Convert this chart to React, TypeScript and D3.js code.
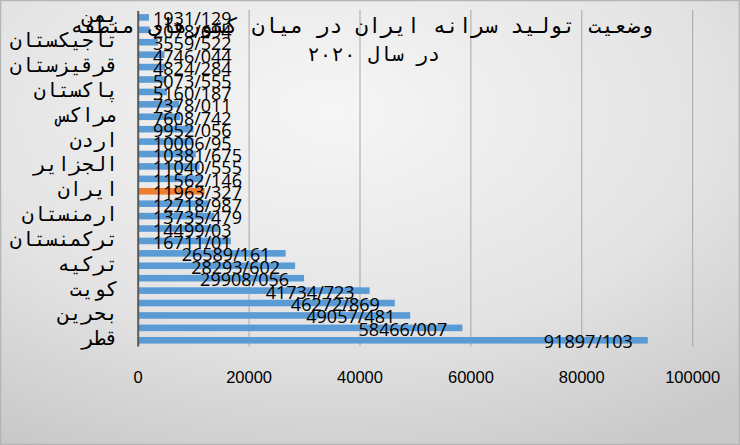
import React from "react";
import * as d3 from "d3";

const categories = [
  "قطر", "امارات", "بحرین", "عربستان", "کویت", "عمان", "ترکیه", "قزاقستان",
  "ترکمنستان", "عراق", "ارمنستان", "آذربایجان", "ایران", "گرجستان", "الجزایر",
  "مصر", "اردن", "لبنان", "مراکس", "ازبکستان", "پاکستان", "فلسطین", "قرقیزستان",
  "افغانستان", "تاجیکستان", "سوریه", "یمن",
];
const valueLabels = [
  "91897/103", "58466/007", "49057/481", "46272/869", "41734/723", "29908/056",
  "28293/602", "26589/161", "16711/01", "14499/03", "13735/479", "12718/987",
  "11963/327", "11562/146", "11040/555", "10381/675", "10006/95", "9952/056",
  "7608/742", "7378/011", "5160/187", "5073/555", "4824/284", "4746/044",
  "3559/522", "2078/694", "1931/129",
];
const values = [
  91897.103, 58466.007, 49057.481, 46272.869, 41734.723, 29908.056,
  28293.602, 26589.161, 16711.01, 14499.03, 13735.479, 12718.987,
  11963.327, 11562.146, 11040.555, 10381.675, 10006.95, 9952.056,
  7608.742, 7378.011, 5160.187, 5073.555, 4824.284, 4746.044,
  3559.522, 2078.694, 1931.129,
];
const highlight = "ایران";
const xTicks = [0, 20000, 40000, 60000, 80000, 100000];
const titleLines = ["وضعیت تولید سرانه ایران در میان کشورهای منطقه", "در سال ۲۰۲۰"];

const W = 740;
const H = 445;

function measure(text: string, font: string) {
  const c = document.createElement("canvas").getContext("2d")!;
  c.font = font;
  return c.measureText(text).width;
}

export default function App() {
  const x = d3.scaleLinear().domain([0, 100000]).range([138.2, 692.7]);
  const y = d3
    .scaleBand<string>()
    .domain(categories)
    .range([346.5, 11.2])
    .paddingInner(0.47)
    .paddingOuter(0.235);
  const labelFont = "18px 'Open Sans'";
  const catFont = "'DejaVu Sans Mono', 'DejaVu Sans', monospace";
  const titleRight = [653, 440];

  return (
    <svg
      width={W}
      height={H}
      style={{ position: "absolute", left: 0, top: 0 }}
      xmlns="http://www.w3.org/2000/svg"
    >
      <defs>
        <radialGradient id="bg" cx="45%" cy="25%" r="85%">
          <stop offset="0%" stopColor="#f6f6f6" />
          <stop offset="60%" stopColor="#e3e3e3" />
          <stop offset="100%" stopColor="#c9c9c9" />
        </radialGradient>
      </defs>
      <rect x={0} y={0} width={W} height={H} fill="url(#bg)" />
      <rect x={0.5} y={0.5} width={W - 1} height={H - 1} fill="none" stroke="#b5b5b5" strokeWidth={1.5} />

      {xTicks.slice(1).map((t) => (
        <line
          key={t}
          x1={x(t)}
          x2={x(t)}
          y1={10}
          y2={346.5}
          stroke="#a6a6a6"
          strokeWidth={1}
        />
      ))}

      {categories.map((c, i) => (
        <rect
          key={c}
          x={x(0)}
          y={y(c)!}
          width={x(values[i]) - x(0)}
          height={y.bandwidth()}
          fill={c === highlight ? "#ed7d31" : "#5b9bd5"}
        />
      ))}

      <line x1={x(0)} x2={x(0)} y1={11} y2={346.5} stroke="#595959" strokeWidth={2} />

      {categories.map((c, i) =>
        i % 2 === 0 ? (
          <text
            key={c}
            x={118}
            y={y(c)! + y.bandwidth() / 2 + 5}
            direction="rtl"
            textAnchor="start"
            fontFamily={catFont}
            fontSize={20}
            fill="#000"
          >
            {c}
          </text>
        ) : null
      )}

      {categories.map((c, i) => {
        const w = measure(valueLabels[i], labelFont);
        const right = x(values[i]) - 15;
        const left = Math.max(153, right - w);
        return (
          <text
            key={c}
            x={left}
            y={y(c)! + y.bandwidth() / 2 + 8}
            fontFamily="'Open Sans'"
            fontSize={18}
            fill="#000"
          >
            {valueLabels[i]}
          </text>
        );
      })}

      {xTicks.map((t) => (
        <text
          key={t}
          x={x(t)}
          y={383}
          textAnchor="middle"
          fontFamily="'Liberation Sans'"
          fontSize={16.5}
          fill="#000"
        >
          {t}
        </text>
      ))}

      {titleLines.map((l, i) => (
        <text
          key={i}
          x={titleRight[i]}
          y={33 + i * 28}
          direction="rtl"
          textAnchor="start"
          fontFamily={catFont}
          fontSize={i === 0 ? 21.5 : 20}
          fill="#000"
        >
          {l}
        </text>
      ))}
    </svg>
  );
}
